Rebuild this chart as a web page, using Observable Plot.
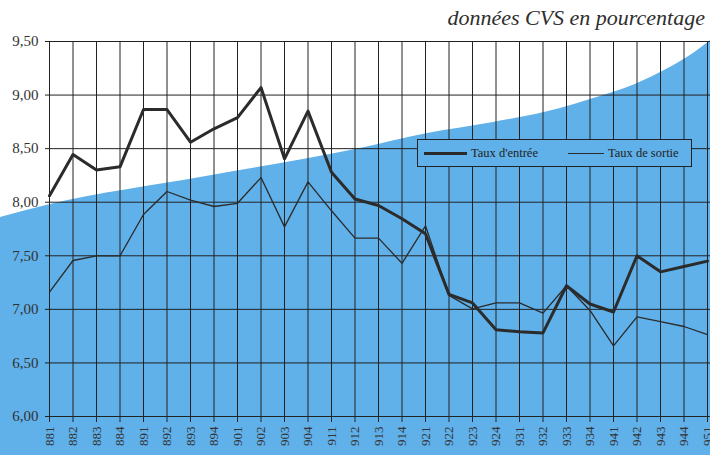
<!DOCTYPE html>
<html><head><meta charset="utf-8">
<script src="https://cdn.jsdelivr.net/npm/d3@7"></script>
<script src="https://cdn.jsdelivr.net/npm/@observablehq/plot@0.6"></script>
<style>
body{margin:0;background:#fff;}
#wrap{position:relative;width:710px;height:455px;overflow:hidden;}
#sub{position:absolute;right:5px;top:5px;font-family:"Liberation Serif","DejaVu Serif",serif;font-style:italic;font-size:22px;color:#2e2e2e;white-space:nowrap;}
#legend{position:absolute;left:417px;top:139px;width:275px;height:28px;background:#60b0e9;border:1px solid #222;box-sizing:border-box;font-family:"Liberation Serif","DejaVu Serif",serif;font-size:12.5px;color:#222;}
#legend .ln{position:absolute;top:13px;background:#2b2b2b;}
#legend .tx{position:absolute;top:6px;white-space:nowrap;}
svg text{font-family:"Liberation Serif","DejaVu Serif",serif;}
</style></head><body>
<div id="wrap"><div id="chart"></div>
<div id="sub">données CVS en pourcentage</div>
<div id="legend">
  <div class="ln" style="left:6px;width:43px;height:3px;top:12px"></div>
  <div class="tx" style="left:53px">Taux d'entrée</div>
  <div class="ln" style="left:150px;width:36px;height:1.3px;top:13px"></div>
  <div class="tx" style="left:190px">Taux de sortie</div>
</div>
</div>
<script>
const quarters = ["881","882","883","884","891","892","893","894","901","902","903","904","911","912","913","914","921","922","923","924","931","932","933","934","941","942","943","944","951"];
const tauxEntree = [8.06,8.445,8.30,8.33,8.865,8.865,8.56,8.685,8.79,9.07,8.405,8.85,8.28,8.03,7.97,7.845,7.705,7.14,7.06,6.81,6.79,6.78,7.22,7.05,6.975,7.50,7.35,7.40,7.45];
const tauxSortie = [7.16,7.456,7.50,7.50,7.885,8.10,8.02,7.96,7.99,8.23,7.77,8.19,7.92,7.665,7.665,7.43,7.78,7.13,7.005,7.06,7.06,6.965,7.22,6.99,6.66,6.93,6.885,6.84,6.765];
const yTicks = [6,6.5,7,7.5,8,8.5,9,9.5];
// decorative background curve (x in quarter-index units, y in %)
const bgX = [-2.1,0.04,6.43,13.23,16.09,18.89,21.74,23.15,24.6,26.0,27.4,28.2];
const bgY = [7.857,7.979,8.231,8.501,8.641,8.744,8.875,8.968,9.071,9.211,9.388,9.52];

const idx = quarters.map((q,i)=>i);
const entree = idx.map(i=>({i, v:tauxEntree[i]}));
const sortie = idx.map(i=>({i, v:tauxSortie[i]}));
const bg = bgX.map((x,k)=>({x, y:bgY[k]}));
const serif = "Liberation Serif, DejaVu Serif, serif";

const chart = Plot.plot({
  width:710, height:455,
  marginLeft:49, marginRight:3, marginTop:41, marginBottom:39,
  style:{background:"transparent", fontFamily:serif, color:"#333"},
  x:{type:"linear", domain:[0,28]},
  y:{domain:[6,9.5]},
  marks:[
    Plot.areaY(bg,{x:"x", y1:5.5, y2:"y", fill:"#60b0e9", curve:"monotone-x"}),
    Plot.ruleX(idx,{x:d=>d, y1:6, y2:9.5, stroke:"#222", strokeWidth:1}),
    Plot.ruleY(yTicks,{y:d=>d, x1:-0.17, x2:28.2, stroke:"#222", strokeWidth:1}),
    Plot.axisY(yTicks,{tickSize:0, tickPadding:11, fontSize:15, fontFamily:serif, fill:"#333", tickFormat:d=>d.toFixed(2).replace(".",","), label:null}),
    Plot.axisX(idx,{tickSize:6, tickPadding:4, fontSize:13, fontFamily:serif, fill:"#333", tickRotate:-90, tickFormat:i=>quarters[i], label:null, stroke:"#222"}),
    Plot.line(sortie,{x:"i", y:"v", stroke:"#2b2b2b", strokeWidth:1.3}),
    Plot.line(entree,{x:"i", y:"v", stroke:"#2b2b2b", strokeWidth:3})
  ]
});
document.getElementById("chart").appendChild(chart);
</script>
</body></html>
